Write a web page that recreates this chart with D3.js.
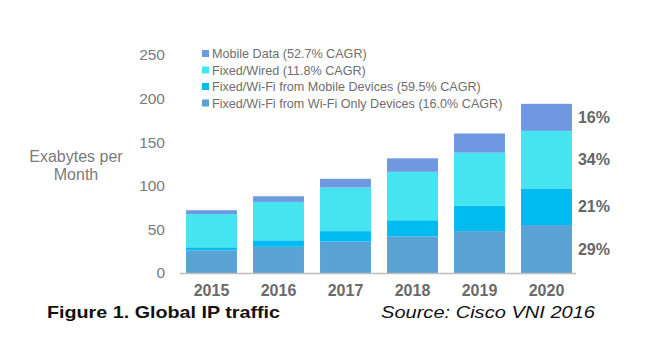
<!DOCTYPE html>
<html>
<head>
<meta charset="utf-8">
<script src="https://cdn.jsdelivr.net/npm/d3@7"></script>
<style>
  body { margin: 0; background: #fff; }
  svg { display: block; }
</style>
</head>
<body>
<div id="chart"></div>
<script>
const years = ["2015", "2016", "2017", "2018", "2019", "2020"];
const wifiOnly = [26, 30, 36, 42, 48, 55];
const wifiMobile = [3.5, 7.5, 12, 18.5, 29, 42];
const wired = [38, 44, 50, 55.5, 61, 66];
const mobile = [4.5, 6.5, 10, 15.5, 22, 31];
const yTicks = [0, 50, 100, 150, 200, 250];
const shares2020 = ["29%", "21%", "34%", "16%"];
const legendLabels = [
  "Mobile Data (52.7% CAGR)",
  "Fixed/Wired (11.8% CAGR)",
  "Fixed/Wi-Fi from Mobile Devices (59.5% CAGR)",
  "Fixed/Wi-Fi from Wi-Fi Only Devices (16.0% CAGR)"
];

const keys = ["wifiOnly", "wifiMobile", "wired", "mobile"];
const colors = {
  wifiOnly: "#5aa2d3",
  wifiMobile: "#00bbef",
  wired: "#44e4f1",
  mobile: "#6e98df"
};

const rows = years.map((year, i) => ({
  year,
  wifiOnly: wifiOnly[i],
  wifiMobile: wifiMobile[i],
  wired: wired[i],
  mobile: mobile[i]
}));

const width = 647;
const height = 343;

const svg = d3.select("#chart")
  .append("svg")
  .attr("width", width)
  .attr("height", height)
  .style("font-family", "'Liberation Sans', Arial, sans-serif");

const x = d3.scaleBand()
  .domain(years)
  .range([178, 580])
  .paddingInner(0.24)
  .paddingOuter(0.12);

const y = d3.scaleLinear().domain([0, 250]).range([273, 55]);

const series = d3.stack().keys(keys)(rows);

svg.append("g")
  .selectAll("g")
  .data(series)
  .join("g")
  .attr("fill", (d) => colors[d.key])
  .selectAll("rect")
  .data((d) => d)
  .join("rect")
  .attr("x", (d) => x(d.data.year))
  .attr("width", x.bandwidth())
  .attr("y", (d) => y(d[1]))
  .attr("height", (d) => y(d[0]) - y(d[1]));

// baseline
svg.append("line")
  .attr("x1", 180)
  .attr("x2", 576)
  .attr("y1", y(0) + 0.5)
  .attr("y2", y(0) + 0.5)
  .attr("stroke", "#bdbdbd")
  .attr("stroke-width", 1.5);

// y tick labels
svg.append("g")
  .selectAll("text")
  .data(yTicks)
  .join("text")
  .attr("x", 165)
  .attr("y", (d) => y(d))
  .attr("dy", "0.35em")
  .attr("text-anchor", "end")
  .attr("font-size", "15.5px")
  .attr("fill", "#7b7b7b")
  .text((d) => d);

svg.append("text")
  .attr("x", 76)
  .attr("y", 162)
  .attr("text-anchor", "middle")
  .attr("font-size", "16px")
  .attr("fill", "#7b7b7b")
  .selectAll("tspan")
  .data(["Exabytes per", "Month"])
  .join("tspan")
  .attr("x", 76)
  .attr("dy", (d, i) => (i === 0 ? 0 : "1.15em"))
  .text((d) => d);

// year labels
svg.append("g")
  .selectAll("text")
  .data(years)
  .join("text")
  .attr("x", (d) => x(d) + x.bandwidth() / 2)
  .attr("y", 296)
  .attr("text-anchor", "middle")
  .attr("font-size", "16px")
  .attr("font-weight", "bold")
  .attr("fill", "#6a6a6a")
  .text((d) => d);

// 2020 share labels
const last = series.map((s) => s[s.length - 1]);
svg.append("g")
  .selectAll("text")
  .data(last)
  .join("text")
  .attr("x", x("2020") + x.bandwidth() + 6)
  .attr("y", (d) => (y(d[0]) + y(d[1])) / 2)
  .attr("dy", "0.35em")
  .attr("font-size", "16px")
  .attr("font-weight", "bold")
  .attr("fill", "#666")
  .text((d, i) => shares2020[i]);

// legend
const legendKeys = ["mobile", "wired", "wifiMobile", "wifiOnly"];
const legend = svg.append("g")
  .selectAll("g")
  .data(legendKeys)
  .join("g")
  .attr("transform", (d, i) => `translate(202, ${54 + i * 16.5})`);

legend.append("rect")
  .attr("x", 0)
  .attr("y", -4)
  .attr("width", 7)
  .attr("height", 7)
  .attr("fill", (d) => colors[d]);

legend.append("text")
  .attr("x", 10)
  .attr("dy", "0.35em")
  .attr("font-size", "12.6px")
  .attr("fill", "#6e6e6e")
  .text((d, i) => legendLabels[i]);

// caption
svg.append("text")
  .attr("x", 47)
  .attr("y", 318)
  .attr("font-size", "17px")
  .attr("font-weight", "bold")
  .attr("fill", "#111")
  .attr("textLength", 233)
  .attr("lengthAdjust", "spacingAndGlyphs")
  .text("Figure 1. Global IP traffic");

svg.append("text")
  .attr("x", 381)
  .attr("y", 318)
  .attr("font-size", "17px")
  .attr("font-style", "italic")
  .attr("fill", "#111")
  .attr("textLength", 214)
  .attr("lengthAdjust", "spacingAndGlyphs")
  .text("Source: Cisco VNI 2016");
</script>
</body>
</html>
